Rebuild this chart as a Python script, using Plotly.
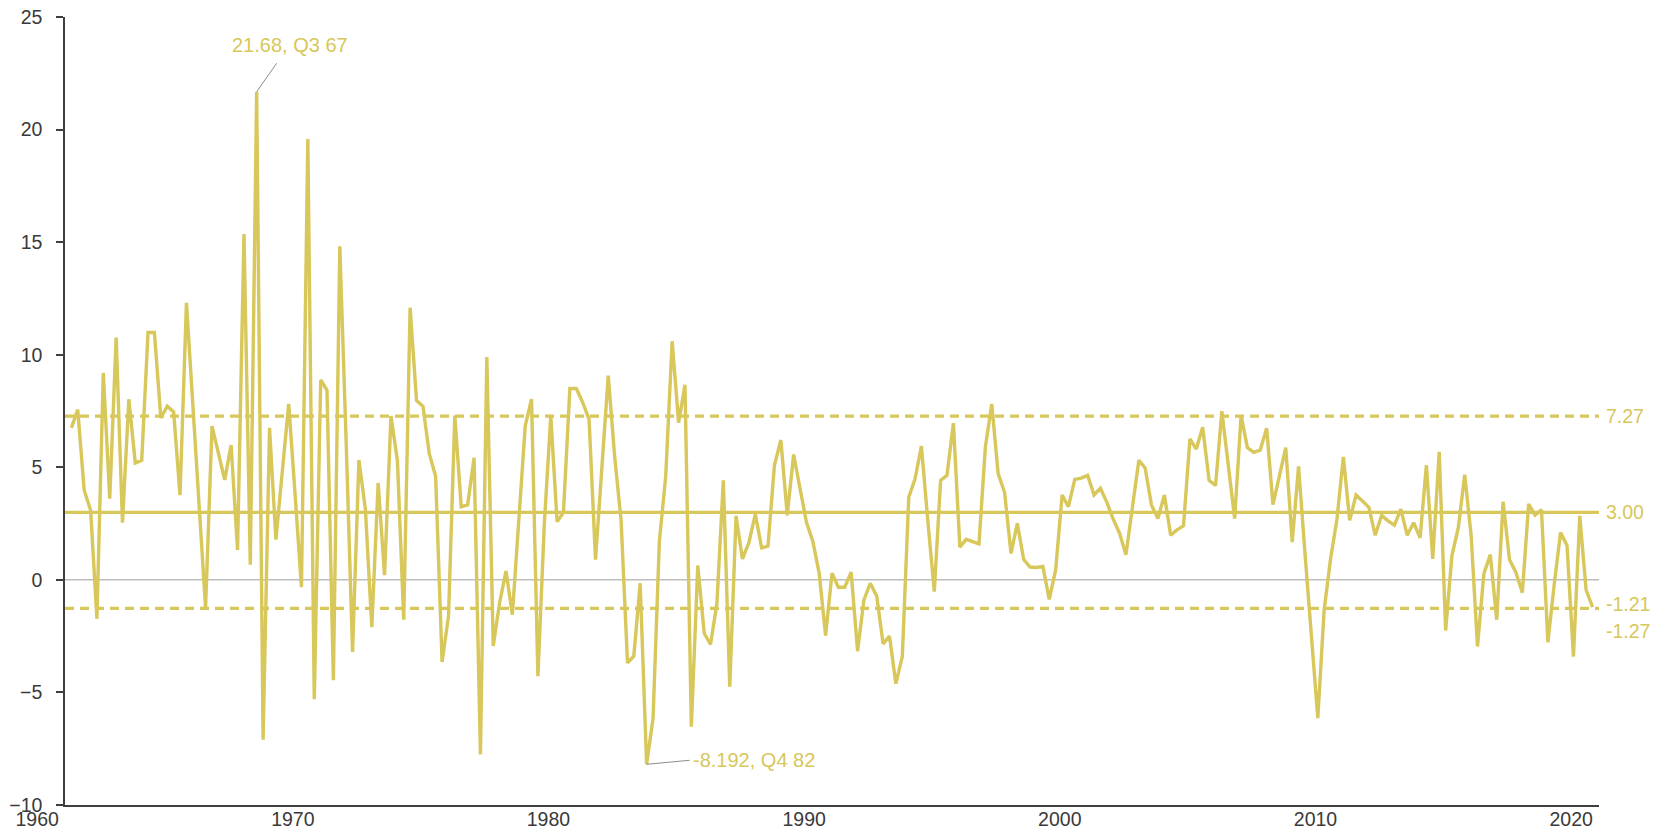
import pandas as pd
import plotly.graph_objects as go

# ---------------- data ----------------
START_QUARTER = "1960-04-01"   # first observation: Q2 1960, quarterly through Q4 2019
VALUES = [
    6.75, 7.56, 3.98, 3.09, -1.73, 9.19, 3.61, 10.76, 2.54, 8.02,
    5.19, 5.31, 10.99, 10.99, 7.19, 7.71, 7.46, 3.76, 12.3, 7.6,
    3.1, -1.25, 6.83, 5.63, 4.44, 5.99, 1.33, 15.36, 0.67, 21.68,
    -7.1, 6.75, 1.79, 4.8, 7.82, 3.75, -0.32, 19.58, -5.3, 8.88,
    8.42, -4.46, 14.82, 6.0, -3.2, 5.32, 3.15, -2.1, 4.3, 0.21,
    7.28, 5.29, -1.77, 12.09, 7.97, 7.71, 5.6, 4.6, -3.65, -1.6,
    7.3, 3.25, 3.33, 5.42, -7.75, 9.9, -2.94, -1.0, 0.39, -1.55,
    2.65, 6.84, 8.03, -4.28, 2.5, 7.28, 2.58, 2.99, 8.5, 8.5,
    7.88, 7.13, 0.9, 5.0, 9.07, 5.5, 2.66, -3.69, -3.39, -0.15,
    -8.192, -6.15, 1.7, 4.6, 10.6, 6.98, 8.66, -6.52, 0.64, -2.37,
    -2.87, -1.05, 4.42, -4.75, 2.84, 0.93, 1.65, 2.92, 1.42, 1.5,
    5.09, 6.21, 2.87, 5.57, 4.04, 2.54, 1.72, 0.3, -2.47, 0.3,
    -0.33, -0.33, 0.34, -3.17, -0.9, -0.15, -0.72, -2.84, -2.5, -4.61,
    -3.41, 3.67, 4.49, 5.94, 2.6, -0.52, 4.42, 4.64, 6.96, 1.45,
    1.8, 1.72, 1.6, 5.91, 7.81, 4.72, 3.89, 1.17, 2.51, 0.9,
    0.57, 0.55, 0.6, -0.87, 0.45, 3.77, 3.25, 4.46, 4.52, 4.64,
    3.77, 4.07, 3.44, 2.69, 2.07, 1.12, 3.2, 5.31, 4.97, 3.32,
    2.72, 3.77, 1.98, 2.22, 2.4, 6.26, 5.81, 6.78, 4.42, 4.19,
    7.49, 5.1, 2.72, 7.3, 5.87, 5.66, 5.76, 6.74, 3.34, 4.6,
    5.87, 1.68, 5.04, 1.2, -2.3, -6.14, -1.35, 0.9, 2.69, 5.46,
    2.64, 3.77, 3.5, 3.22, 1.98, 2.87, 2.62, 2.43, 3.14, 1.98,
    2.54, 1.87, 5.09, 0.93, 5.69, -2.25, 1.08, 2.32, 4.67, 1.95,
    -2.96, 0.27, 1.12, -1.77, 3.47, 0.9, 0.33, -0.57, 3.37, 2.87,
    3.11, -2.77, -0.2, 2.1, 1.53, -3.41, 2.84, -0.45, -1.21,
]

MEAN_LEVEL = 3.00
UPPER_LEVEL = 7.27
LOWER_LEVEL = -1.27
LAST_VALUE_LABEL = "-1.21"

PEAK_DATE = "1967-07-01"
PEAK_VALUE = 21.68
PEAK_LABEL = "21.68, Q3 67"
TROUGH_DATE = "1982-10-01"
TROUGH_VALUE = -8.192
TROUGH_LABEL = "-8.192, Q4 82"

X_RANGE = ["1960-01-01", "2020-01-01"]
Y_TICKS = [-10, -5, 0, 5, 10, 15, 20, 25]

# ---------------- style ----------------
YELLOW = "#D8C75A"
AXIS_COLOR = "#3f3f3f"
TEXT_COLOR = "#3a3a3a"
FONT = "Liberation Sans, Arial, sans-serif"
FS = 19.5
FS_NOTE = 20

dates = pd.date_range(START_QUARTER, periods=len(VALUES), freq="QS")

fig = go.Figure()

# zero line
fig.add_hline(y=0, line=dict(color="#bdbdbd", width=1.5), layer="below")
# mean and +/- bands
fig.add_hline(y=MEAN_LEVEL, line=dict(color=YELLOW, width=3.2), layer="below")
fig.add_hline(y=UPPER_LEVEL, line=dict(color=YELLOW, width=3.2, dash="9px,6px"), layer="below")
fig.add_hline(y=LOWER_LEVEL, line=dict(color=YELLOW, width=3.2, dash="9px,6px"), layer="below")

fig.add_trace(go.Scatter(
    x=dates, y=VALUES, mode="lines",
    line=dict(color=YELLOW, width=3.4),
    hoverinfo="x+y", showlegend=False,
))

annotations = []
# right-hand labels
for val, txt, ysh in [(UPPER_LEVEL, f"{UPPER_LEVEL:.2f}", 0),
                      (MEAN_LEVEL, f"{MEAN_LEVEL:.2f}", 0),
                      (VALUES[-1], LAST_VALUE_LABEL, 3),
                      (LOWER_LEVEL, f"{LOWER_LEVEL:.2f}", -23)]:
    annotations.append(dict(
        xref="paper", x=1, xanchor="left", xshift=5,
        yref="y", y=val, yshift=ysh, yanchor="middle",
        text=txt, showarrow=False,
        font=dict(family=FONT, size=FS, color=YELLOW),
    ))

# peak annotation
annotations.append(dict(
    x=PEAK_DATE, y=PEAK_VALUE, xref="x", yref="y",
    text=PEAK_LABEL, showarrow=True, arrowhead=0, arrowwidth=1,
    arrowcolor="#8c8c8c", ax=33, ay=-47, borderpad=7,
    xanchor="center", yanchor="middle",
    font=dict(family=FONT, size=FS_NOTE, color=YELLOW),
))
# trough annotation
annotations.append(dict(
    x=TROUGH_DATE, y=TROUGH_VALUE, xref="x", yref="y",
    text=TROUGH_LABEL, showarrow=True, arrowhead=0, arrowwidth=1,
    arrowcolor="#8c8c8c", ax=43, ay=-4, borderpad=2,
    xanchor="left", yanchor="middle",
    font=dict(family=FONT, size=FS_NOTE, color=YELLOW),
))

fig.update_layout(
    width=1658, height=829,
    template="none",
    paper_bgcolor="white", plot_bgcolor="white",
    margin=dict(l=65, r=59, t=17, b=24, pad=0),
    font=dict(family=FONT, size=FS, color=TEXT_COLOR),
    annotations=annotations,
    showlegend=False,
)

fig.update_xaxes(
    type="date", range=X_RANGE,
    tick0="1960-01-01", dtick="M120", tickformat="%Y",
    ticksuffix="\u00a0",
    showgrid=False, zeroline=False,
    showline=True, linecolor=AXIS_COLOR, linewidth=1.5,
    ticks="", ticklabelposition="outside left",
    ticklabelstandoff=-4,
    tickfont=dict(family=FONT, size=FS, color=TEXT_COLOR),
    automargin=False,
)
fig.update_yaxes(
    range=[-10, 25], tickvals=Y_TICKS,
    showgrid=False, zeroline=False,
    showline=True, linecolor=AXIS_COLOR, linewidth=1.5,
    ticks="outside", ticklen=7, tickcolor=AXIS_COLOR, tickwidth=1.5,
    ticklabelstandoff=10,
    tickfont=dict(family=FONT, size=FS, color=TEXT_COLOR),
    automargin=False,
)

fig.write_html(
    "out.html",
    config={"displayModeBar": False},
    post_script="document.body.style.margin='0px';document.body.style.overflow='hidden';",
)
